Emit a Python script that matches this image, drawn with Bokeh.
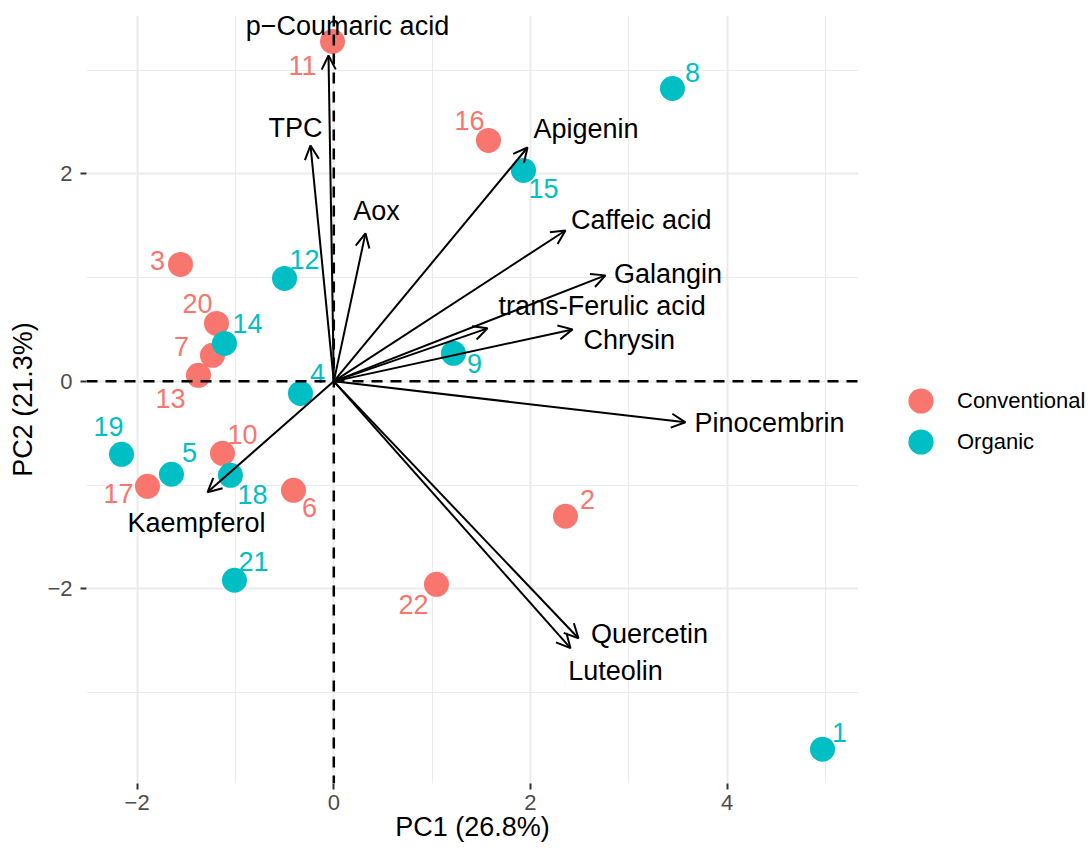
from bokeh.plotting import figure
from bokeh.layouts import row
from bokeh.models import (ColumnDataSource, Range1d, FixedTicker, Arrow, OpenHead, Span,
                          Legend, LegendItem, CDSView, GroupFilter)
from bokeh.core.properties import value
from bokeh.embed import file_html
from bokeh.resources import INLINE

# ---- sample scores ----
sample_ids = ["1", "2", "3", "4", "5", "6", "7", "8", "9", "10", "11",
              "12", "13", "14", "15", "16", "17", "18", "19", "20", "21", "22"]
pc1 = [4.970, 2.356, -1.559, -0.339, -1.651, -0.410, -1.234, 3.444, 1.217, -1.132, -0.013,
       -0.501, -1.376, -1.112, 1.929, 1.573, -1.895, -1.051, -2.159, -1.193, -1.010, 1.044]
pc2 = [-3.547, -1.301, 1.128, -0.116, -0.896, -1.051, 0.251, 2.824, 0.270, -0.694, 3.277,
       0.993, 0.058, 0.366, 2.034, 2.323, -1.012, -0.906, -0.704, 0.559, -1.918, -1.957]
group = ["Organic", "Conventional", "Conventional", "Organic", "Organic", "Conventional",
         "Conventional", "Organic", "Organic", "Conventional", "Conventional", "Organic",
         "Conventional", "Organic", "Organic", "Conventional", "Conventional", "Organic",
         "Organic", "Conventional", "Organic", "Conventional"]
# repelled label offsets (screen px)
label_dx = [17, 22, -23, 17, 18, 16, -31, 20, 21, 20, -30, 20, -28, 23, 20, -19, -29, 22, -13, -19, 19, -23]
label_dy = [-17, -17, -4, -20, -22, 17, -9, -16, 10, -19, 24, -19, 23, -20, 18, -20, 7, 19, -28, -20, -19, 20]

# ---- variable loadings ----
variables = ["p\u2212Coumaric acid", "TPC", "Aox", "Apigenin", "Caffeic acid", "Galangin",
             "trans-Ferulic acid", "Chrysin", "Pinocembrin", "Kaempferol", "Quercetin", "Luteolin"]
load_pc1 = [-0.054, -0.237, 0.322, 1.970, 2.356, 2.763, 1.563, 2.428, 3.576, -1.285, 2.488, 2.407]
load_pc2 = [3.142, 2.275, 1.427, 2.255, 1.455, 1.022, 0.511, 0.501, -0.395, -1.070, -2.477, -2.573]
var_label_x = [0.139, -0.390, 0.434, 2.565, 3.126, 3.398, 2.729, 3.004, 4.431, -1.396, 3.211, 2.865]
var_label_y = [3.422, 2.439, 1.639, 2.429, 1.555, 1.031, 0.723, 0.395, -0.402, -1.362, -2.432, -2.795]

# ---- axes ----
x_ticks = [-2, 0, 2, 4]
x_tick_labels = ["\u22122", "0", "2", "4"]
x_minor = [-3, -1, 1, 3, 5]
y_ticks = [-2, 0, 2]
y_tick_labels = ["\u22122", "0", "2"]
y_minor = [-3, -1, 1, 3]
x_title = "PC1 (26.8%)"
y_title = "PC2 (21.3%)"

groups = ["Conventional", "Organic"]
palette = {"Conventional": "#F8766D", "Organic": "#00BFC4"}
FONT = "Liberation Sans"

p = figure(width=858, height=850, x_range=Range1d(-2.515, 5.336), y_range=Range1d(-3.878, 3.528),
           output_backend="svg", toolbar_location=None, title=None,
           min_border_left=86, min_border_right=0, min_border_top=15, min_border_bottom=67)
p.outline_line_color = None
p.background_fill_color = "white"

for ax, ticks, labels, minor in ((p.xaxis[0], x_ticks, x_tick_labels, x_minor),
                                 (p.yaxis[0], y_ticks, y_tick_labels, y_minor)):
    ax.ticker = FixedTicker(ticks=ticks, minor_ticks=minor)
    ax.major_label_overrides = {t: l for t, l in zip(ticks, labels)}
    ax.axis_line_color = None
    ax.major_tick_line_color = "#333333"
    ax.major_tick_line_width = 2
    ax.major_tick_in = 0
    ax.major_tick_out = 6
    ax.minor_tick_line_color = None
    ax.major_label_text_font = FONT
    ax.major_label_text_font_size = "22px"
    ax.major_label_text_color = "#4D4D4D"
    ax.axis_label_text_font = FONT
    ax.axis_label_text_font_size = "27px"
    ax.axis_label_text_font_style = "normal"
    ax.axis_label_text_color = "black"

p.xaxis.axis_label = x_title
p.yaxis.axis_label = y_title
p.xaxis.major_label_standoff = 5
p.xaxis.axis_label_standoff = -1
p.yaxis.major_label_standoff = 8
p.yaxis.axis_label_standoff = 6

for g in p.grid:
    g.grid_line_color = "#EBEBEB"
    g.grid_line_width = 2
    g.minor_grid_line_color = "#EBEBEB"
    g.minor_grid_line_width = 1
p.xgrid.ticker = FixedTicker(ticks=x_ticks, minor_ticks=x_minor)
p.ygrid.ticker = FixedTicker(ticks=y_ticks, minor_ticks=y_minor)

src = ColumnDataSource(dict(x=pc1, y=pc2, label=sample_ids, group=group,
                            color=[palette[g] for g in group], dx=label_dx, dy=label_dy))

for gname in groups:
    view = CDSView(filter=GroupFilter(column_name="group", group=gname))
    p.scatter("x", "y", source=src, view=view, size=25,
              fill_color=palette[gname], line_color=None, marker="circle")

p.text("x", "y", text="label", source=src, x_offset="dx", y_offset="dy",
       text_color="color", text_font=value(FONT), text_font_size=value("27px"),
       text_align="center", text_baseline="middle")

var_src = ColumnDataSource(dict(x0=[0.0] * len(variables), y0=[0.0] * len(variables),
                                x1=load_pc1, y1=load_pc2, lx=var_label_x, ly=var_label_y,
                                name=variables))
p.text("lx", "ly", text="name", source=var_src, text_color="black",
       text_font=value(FONT), text_font_size=value("27px"),
       text_align="center", text_baseline="middle")

p.add_layout(Arrow(source=var_src, x_start="x0", y_start="y0", x_end="x1", y_end="y1",
                   line_color="black", line_width=2,
                   end=OpenHead(size=14, line_color="black", line_width=2)))

p.add_layout(Span(location=0, dimension="height", line_color="black", line_width=2.5, line_dash="11 8"))
p.add_layout(Span(location=0, dimension="width", line_color="black", line_width=2.5, line_dash="11 8"))

# ---- legend panel (separate figure at the right; its frame aligns with the main frame) ----
pl = figure(width=233, height=850, x_range=Range1d(0, 1), y_range=Range1d(0, 1),
            output_backend="svg", toolbar_location=None, title=None, min_border=0,
            x_axis_location=None, y_axis_location=None)
pl.outline_line_color = None
pl.grid.visible = False
legend_bottoms = [351, 310]
for gname, yb in zip(groups, legend_bottoms):
    # key renderer placed outside the visible range: only its legend glyph shows
    r = pl.scatter(x=[-10], y=[-10], size=25, fill_color=palette[gname], line_color=None, marker="circle")
    lg = Legend(items=[LegendItem(label=gname, renderers=[r])], location=(31, yb),
                glyph_width=63, glyph_height=63, padding=0, margin=0, spacing=0,
                label_standoff=5, label_text_font=FONT, label_text_font_size="22px",
                label_text_color="black", border_line_color=None, background_fill_alpha=0)
    pl.add_layout(lg, "center")

layout = row(p, pl)
open("out.html", "w").write(file_html(layout, INLINE))
